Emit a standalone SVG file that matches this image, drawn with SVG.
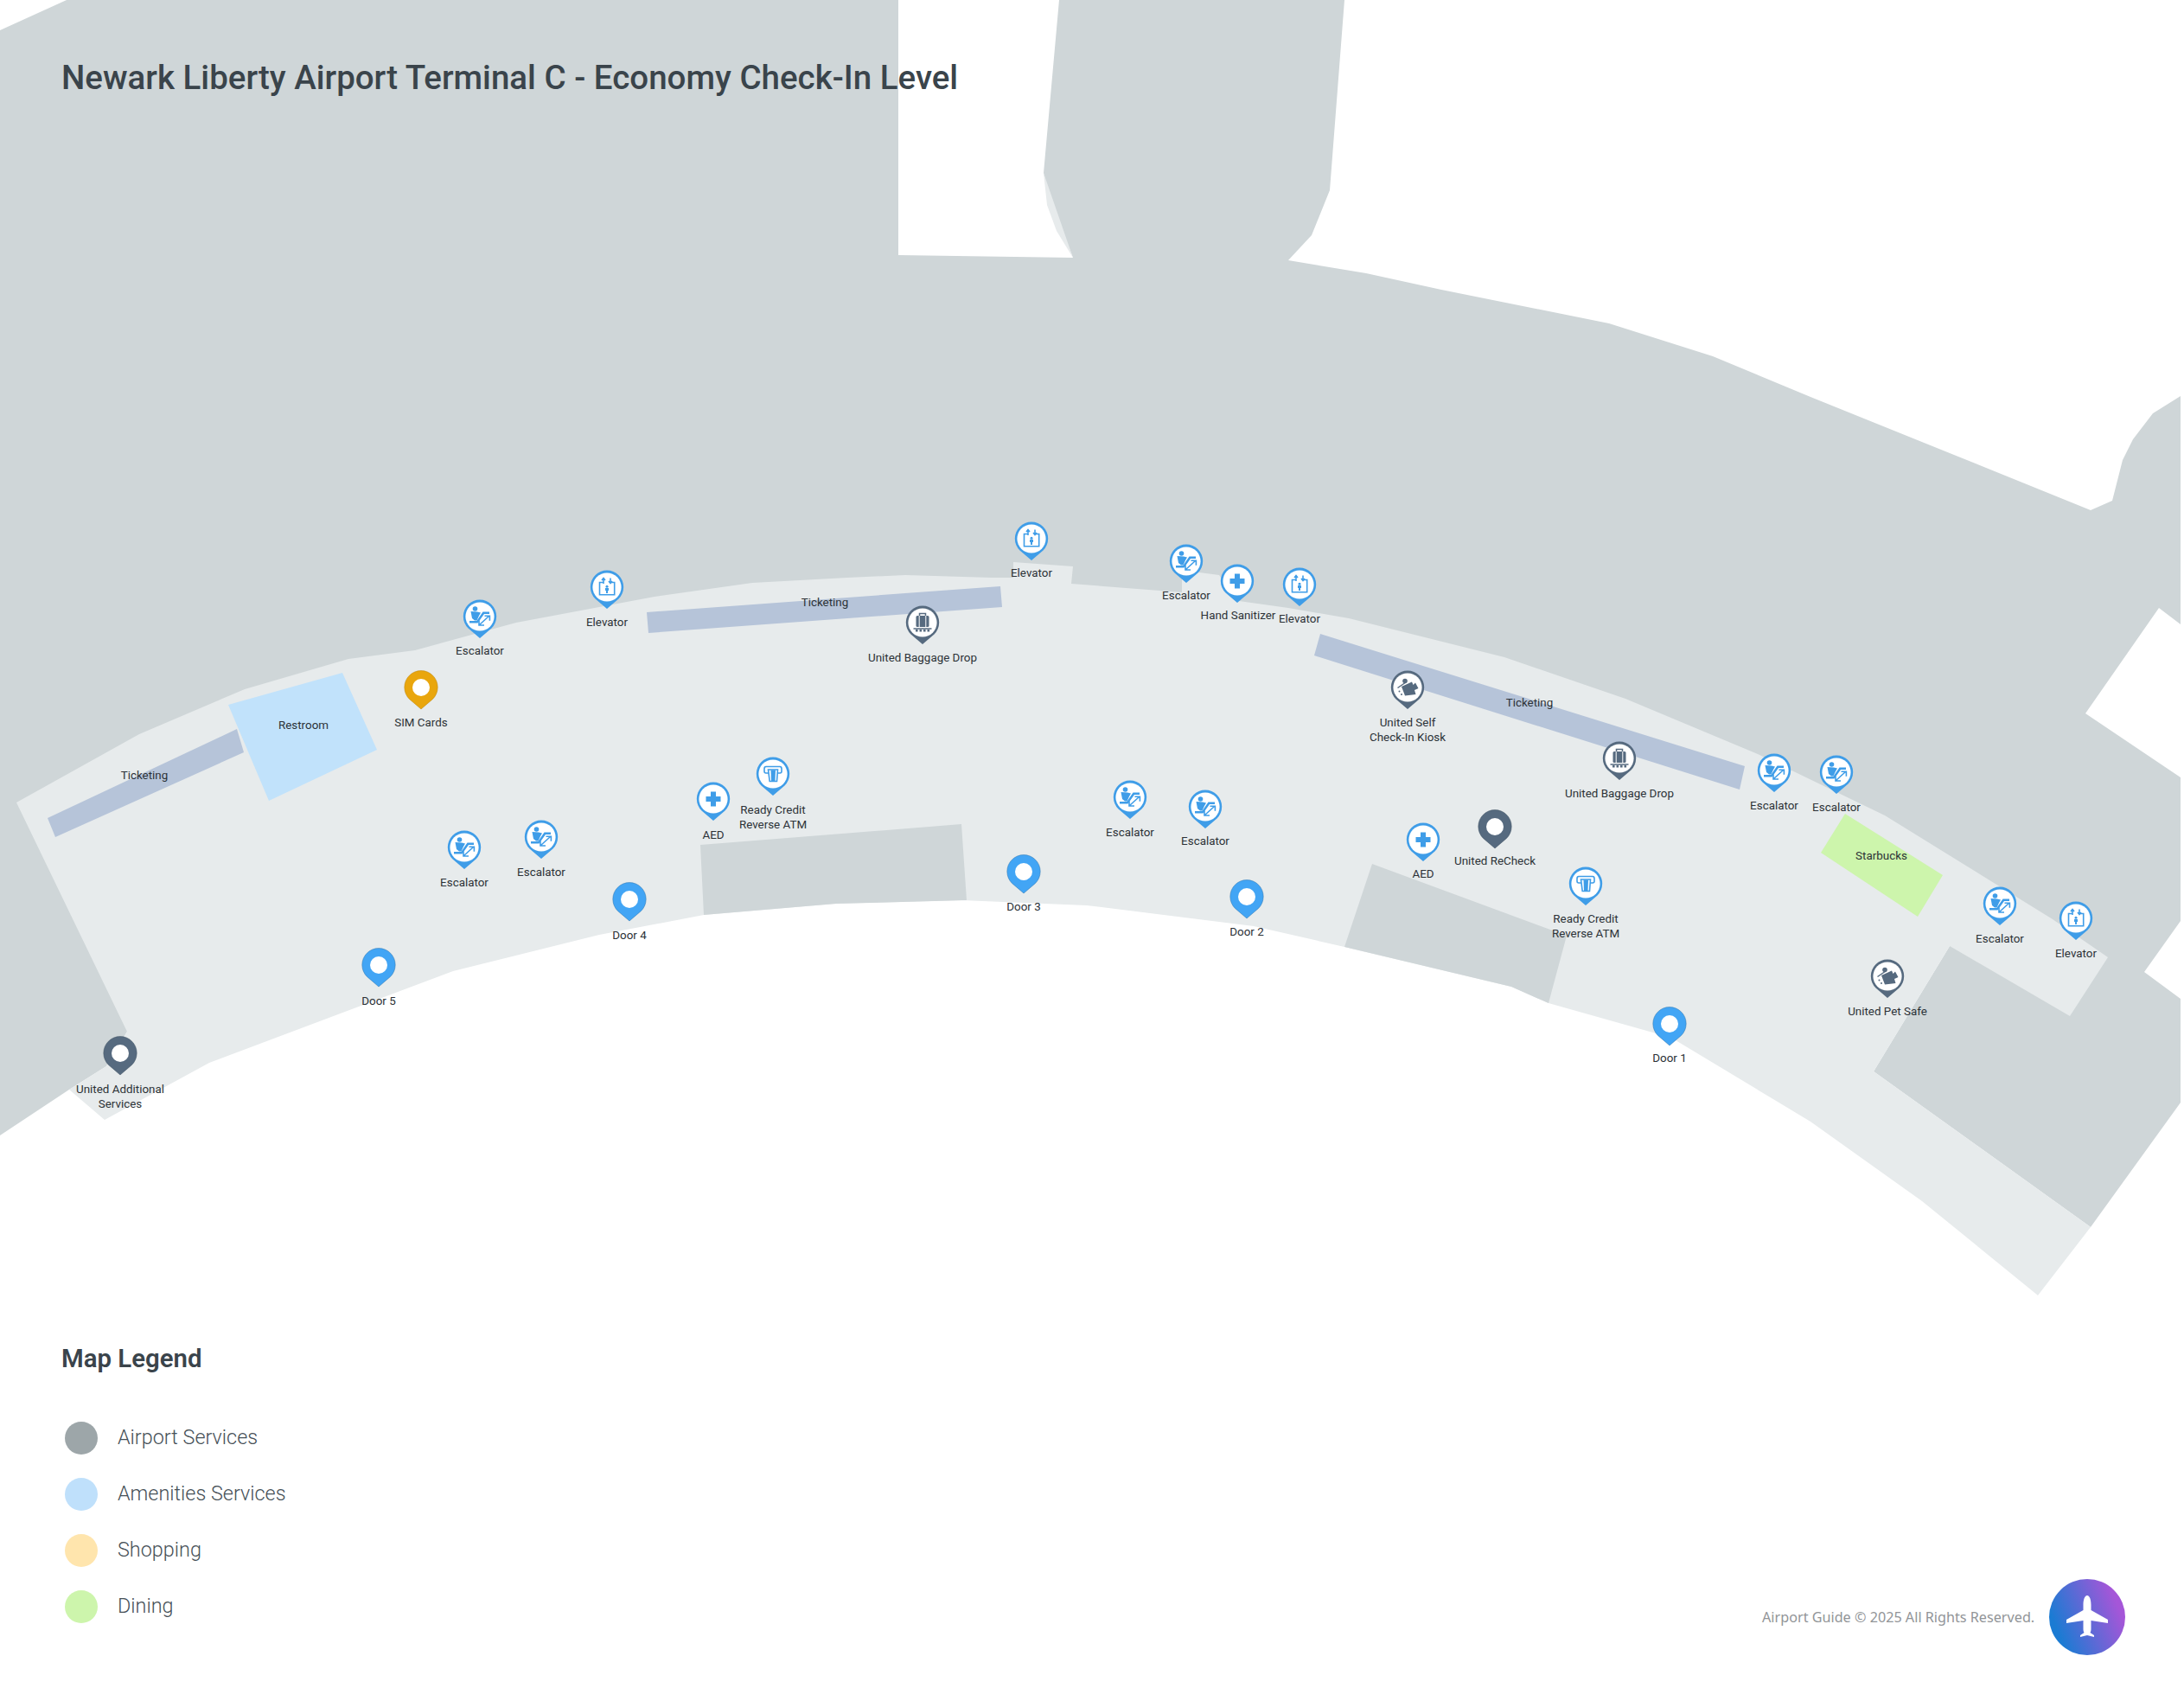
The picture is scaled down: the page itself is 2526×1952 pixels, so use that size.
<svg xmlns="http://www.w3.org/2000/svg" width="2526" height="1952" viewBox="0 0 2526 1952">
<style>
text{font-family:Roboto,"Liberation Sans",sans-serif}
.l{font-size:13.4px;fill:#2c3237;text-anchor:middle}
.lg{font-size:23.4px;font-weight:300;fill:#465057}
.b{fill:#3f9de8}.w{fill:#fff}.s{fill:#566a7f}
.ib{fill:#3f9de8;stroke:none}.ls{fill:none;stroke:#3f9de8;stroke-width:1.6}
.ds{fill:none;stroke:#566a7f;stroke-width:1.5}.df{fill:#566a7f;stroke:none}
</style>
<defs>
<linearGradient id="g" x1="0" y1="0.7" x2="1" y2="0.3"><stop offset="0.1" stop-color="#1b7bd3"/><stop offset="0.9" stop-color="#a556d8"/></linearGradient>
<path id="p" d="M0 25L-13.5 13.4A19.2 19.2 0 1 1 13.5 13.4Z"/>
<g id="pb"><use href="#p" class="b"/><circle r="16.6" class="w"/></g>
<g id="pd"><use href="#p" class="s"/><circle r="16.6" class="w"/></g>
<g id="door"><use href="#p" fill="#42a5f5" stroke="#2f74ad" stroke-width=".5"/><circle r="10" class="w"/></g>
<g id="rc"><use href="#p" class="s" stroke="#3f5060" stroke-width=".5"/><circle r="10" class="w"/></g>
<g id="sim"><use href="#p" fill="#e9a60d" stroke="#b9820c" stroke-width=".5"/><circle r="10" class="w"/></g>
<g id="esc"><use href="#pb"/><circle cx="-5.5" cy="-9" r="2.8" class="ib"/><path class="ib" d="M-10.5 -6L-3 -5.5L1 -4.5L-1 -1L-3.5 4.5L-6 4.5L-9 2Z"/><path class="ib" d="M-12 5H-3.7L3.5 -5.5H11V-3H5L-2.5 7.5H-12Z"/><path class="ls" stroke-width="2.2" d="M-0.5 9.5L10.5 -0.5M5.5 -0.8H11.4V4.8M-1 4.5V10H5"/></g>
<g id="ele"><use href="#pb"/><path class="ls" d="M-4 -5.5H-8.5V8.8H8.7V-5.5H4"/><circle cx="0" cy="-0.8" r="1.5" class="ib"/><path class="ib" d="M-2 1H2V4H1V7H-1V4H-2Z"/><path class="ls" d="M-4 -4V-10M-6 -8L-4 -10.5L-2 -8M4 -10.5V-4.5M2 -7L4 -4.5L6 -7"/></g>
<g id="atm"><use href="#pb"/><path class="ls" stroke-width="2" d="M-5 -1H-8Q-10 -1 -10 -3V-6Q-10 -8.5 -8 -8.5H8Q10 -8.5 10 -6V-3Q10 -1 8 -1H5"/><path class="ls" d="M-5.5 -5H5.5L4.5 8.5H-3.8Z"/><path class="ib" d="M-2.5 -4.5H3L2.5 8H-2Z"/></g>
<g id="aed"><use href="#pb"/><path class="ib" d="M-3 -8.5H3V-3H8.5V3H3V8.5H-3V3H-8.5V-3H-3Z"/></g>
<g id="bag"><use href="#pd"/><path class="ds" d="M-3.5 -8V-10.5H3.5V-8"/><rect x="-7.5" y="-8" width="15" height="13" rx="1.5" class="df"/><path d="M-3.8 -8V5M3.8 -8V5" stroke="#fff" stroke-width="1"/><path class="ds" d="M-10.5 7H10.5"/><path class="df" d="M-8 8h2.6v2.4h-2.6zM-3.5 8h2.6v2.4h-2.6zM1 8h2.6v2.4h-2.6zM5.5 8h2.6v2.4h-2.6z"/></g>
<g id="kio"><use href="#pd"/><path class="df" d="M-7 -1L5 -6.5L6.5 -3L9 -5.5L12.5 1L8 3L9.5 8L-3 9.5Z"/><path class="ds" stroke-width="2.4" d="M-11.5 0.5L-2 -6"/><circle cx="-3" cy="-7.5" r="2.8" class="df"/><circle cx="-9.5" cy="4.5" r="1" class="df"/><circle cx="-7" cy="8" r="1" class="df"/></g>
</defs>
<g id="terminal">
<path fill="#cfd6d8" d="M0 35L77 0H1039V295L1241 298L1215 232L1207 200L1225 0H1555L1538 220L1517 272L1490 301L1580 316L1667 335L1861 374L1981 412L2094 459L2255 524L2418 590L2443 579L2455 532L2467 508L2490 478L2522 458V722L2497 703L2412 825L2522 899V1065L2480 1124L2522 1155V1275L2418 1419L2167 1239L2255 1094L2000 1000L1000 900L147 1193L123 1233L80 1260L0 1313Z"/>
<path fill="#e7ebec" d="M19 928L161 849L283 797L403 762L480 752L597 720L757 690L870 674L980 668L1047 665L1147 668H1172V650L1241 655L1239 675L1367 685V663L1387 662L1410 665L1433 695L1490 703L1560 715L1640 735L1740 760L1880 808L2033 872L2180 943L2374 1063L2438 1107L2394 1175L2255 1094L2167 1239L2418 1419L2357 1498L2223 1389L2094 1297L1933 1200L1791 1160L1748 1141L1555 1095L1450 1071L1257 1047L1112 1041L967 1045L814 1058L693 1081L524 1123L242 1229L121 1295L80 1260L123 1233L147 1193Z"/>
<path fill="#e7ebec" d="M1207 200L1211 237L1222 267L1241 298L1233 275Z"/>
<path fill="#cfd6d8" d="M810 977L1112 953L1118 1041L967 1045L814 1058ZM1587 999L1812 1082L1791 1160L1748 1141L1555 1095Z"/>
</g>
<g id="ticketing-left"><path fill="#b6c4d9" d="M55 946L274 843L282 870L64 968Z"/><text class="l" x="167" y="901">Ticketing</text></g>
<g id="ticketing-mid"><path fill="#b6c4d9" d="M748 708L1157 678L1159 702L750 732Z"/><text class="l" x="954" y="701">Ticketing</text></g>
<g id="ticketing-right"><path fill="#b6c4d9" d="M1527 733L2018 886L2012 913L1520 758Z"/><text class="l" x="1769" y="817">Ticketing</text></g>
<g id="restroom"><path fill="#c1e2fb" d="M264 815L396 778L436 867L311 926Z"/><text class="l" x="351" y="843">Restroom</text></g>
<g id="starbucks"><path fill="#cdf5ac" d="M2134 941L2247 1012L2218 1060L2106 986Z"/><text class="l" x="2176" y="994">Starbucks</text></g>
<g id="n1"><use href="#esc" x="555" y="713"/><text class="l" x="555" y="757">Escalator</text></g>
<g id="n2"><use href="#ele" x="702" y="679"/><text class="l" x="702" y="724">Elevator</text></g>
<g id="n3"><use href="#sim" x="487" y="795"/><text class="l" x="487" y="840">SIM Cards</text></g>
<g id="n4"><use href="#aed" x="825" y="924"/><text class="l" x="825" y="970">AED</text></g>
<g id="n5"><use href="#atm" x="894" y="895"/><text class="l" x="894" y="941">Ready Credit</text><text class="l" x="894" y="958">Reverse ATM</text></g>
<g id="n6"><use href="#esc" x="537" y="980"/><text class="l" x="537" y="1025">Escalator</text></g>
<g id="n7"><use href="#esc" x="626" y="968"/><text class="l" x="626" y="1013">Escalator</text></g>
<g id="n8"><use href="#ele" x="1193" y="623"/><text class="l" x="1193" y="667">Elevator</text></g>
<g id="n9"><use href="#bag" x="1067" y="720"/><text class="l" x="1067" y="765">United Baggage Drop</text></g>
<g id="n10"><use href="#esc" x="1372" y="649"/><text class="l" x="1372" y="693">Escalator</text></g>
<g id="n11"><use href="#aed" x="1431" y="672"/><text class="l" x="1432" y="716">Hand Sanitizer</text></g>
<g id="n12"><use href="#ele" x="1503" y="676"/><text class="l" x="1503" y="720">Elevator</text></g>
<g id="n13"><use href="#kio" x="1628" y="795"/><text class="l" x="1628" y="840">United Self</text><text class="l" x="1628" y="857">Check-In Kiosk</text></g>
<g id="n14"><use href="#bag" x="1873" y="877"/><text class="l" x="1873" y="922">United Baggage Drop</text></g>
<g id="n15"><use href="#rc" x="1729" y="956"/><text class="l" x="1729" y="1000">United ReCheck</text></g>
<g id="n16"><use href="#aed" x="1646" y="971"/><text class="l" x="1646" y="1015">AED</text></g>
<g id="n17"><use href="#atm" x="1834" y="1022"/><text class="l" x="1834" y="1067">Ready Credit</text><text class="l" x="1834" y="1084">Reverse ATM</text></g>
<g id="n18"><use href="#esc" x="2052" y="891"/><text class="l" x="2052" y="936">Escalator</text></g>
<g id="n19"><use href="#esc" x="2124" y="893"/><text class="l" x="2124" y="938">Escalator</text></g>
<g id="n20"><use href="#esc" x="2313" y="1045"/><text class="l" x="2313" y="1090">Escalator</text></g>
<g id="n21"><use href="#ele" x="2401" y="1062"/><text class="l" x="2401" y="1107">Elevator</text></g>
<g id="n22"><use href="#kio" x="2183" y="1129"/><text class="l" x="2183" y="1174">United Pet Safe</text></g>
<g id="n23"><use href="#rc" x="139" y="1218"/><text class="l" x="139" y="1264">United Additional</text><text class="l" x="139" y="1281">Services</text></g>
<g id="n24"><use href="#door" x="438" y="1116"/><text class="l" x="438" y="1162">Door 5</text></g>
<g id="n25"><use href="#door" x="728" y="1040"/><text class="l" x="728" y="1086">Door 4</text></g>
<g id="n26"><use href="#door" x="1184" y="1008"/><text class="l" x="1184" y="1053">Door 3</text></g>
<g id="n27"><use href="#door" x="1442" y="1037"/><text class="l" x="1442" y="1082">Door 2</text></g>
<g id="n28"><use href="#door" x="1931" y="1184"/><text class="l" x="1931" y="1228">Door 1</text></g>
<g id="n29"><use href="#esc" x="1307" y="922"/><text class="l" x="1307" y="967">Escalator</text></g>
<g id="n30"><use href="#esc" x="1394" y="933"/><text class="l" x="1394" y="977">Escalator</text></g>
<g id="title"><text x="71" y="103" font-size="38.5" font-weight="500" fill="#3a444b">Newark Liberty Airport Terminal C - Economy Check-In Level</text></g>
<g id="legend">
<text x="71" y="1581" font-size="29.4" font-weight="600" fill="#3a444b">Map Legend</text>
<circle cx="94" cy="1663" r="19" fill="#9da6a9"/><text class="lg" x="136" y="1670">Airport Services</text>
<circle cx="94" cy="1728" r="19" fill="#bfe0fb"/><text class="lg" x="136" y="1735">Amenities Services</text>
<circle cx="94" cy="1793" r="19" fill="#ffe5ad"/><text class="lg" x="136" y="1800">Shopping</text>
<circle cx="94" cy="1858" r="19" fill="#cdf5ac"/><text class="lg" x="136" y="1865">Dining</text>
</g>
<g id="footer">
<text x="2038" y="1875.5" font-size="16.2" fill="#929598" style="font-family:'Noto Sans','Open Sans',sans-serif">Airport Guide © 2025 All Rights Reserved.</text>
<circle cx="2414" cy="1870" r="44" fill="url(#g)"/>
<path transform="translate(2414 1869)" fill="#fff" d="M0 -24C3 -24 4.5 -19 4.5 -13V-7L24 4V8L4.5 5V15C4.5 17 4 18 3.5 19L8 22V24L0 22L-8 24V22L-3.5 19C-4 18 -4.5 17 -4.5 15V5L-24 8V4L-4.5 -7V-13C-4.5 -19 -3 -24 0 -24Z"/>
</g>
</svg>
